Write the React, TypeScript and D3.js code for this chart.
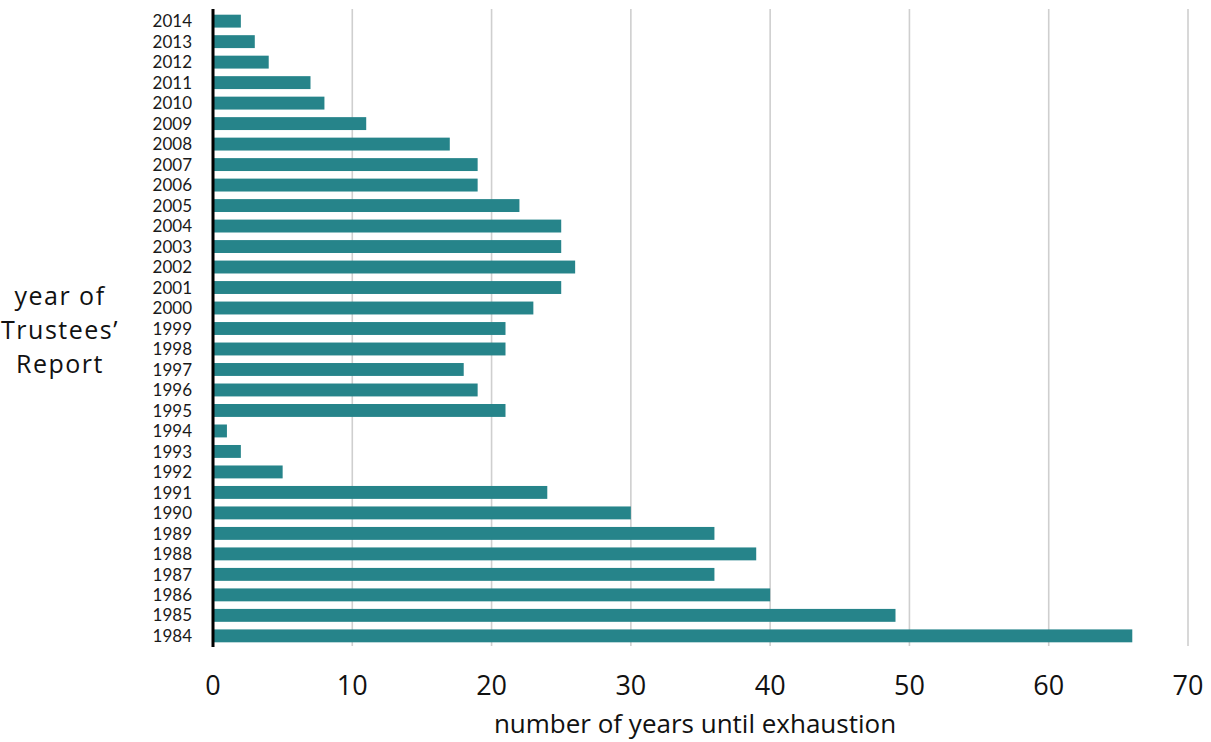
import React from "react";
import * as d3 from "d3";

const years = [
  "2014","2013","2012","2011","2010","2009","2008","2007","2006","2005","2004","2003","2002","2001","2000",
  "1999","1998","1997","1996","1995","1994","1993","1992","1991","1990","1989","1988","1987","1986","1985","1984",
];
const yearsUntilExhaustion = [
  2, 3, 4, 7, 8, 11, 17, 19, 19, 22, 25, 25, 26, 25, 23,
  21, 21, 18, 19, 21, 1, 2, 5, 24, 30, 36, 39, 36, 40, 49, 66,
];
const xTicks = [0, 10, 20, 30, 40, 50, 60, 70];
const xTitle = "number of years until exhaustion";
const yTitleLines = ["year of", "Trustees\u2019", "Report"];

const W = 1211;
const H = 742;
const FONT = "'Open Sans', 'Noto Sans', sans-serif";
const LABEL_FONT = "Lato, 'Open Sans', sans-serif";

export default function App() {
  const x = d3.scaleLinear().domain([0, 70]).range([213, 1188]);
  const y = d3
    .scaleBand<string>()
    .domain(years)
    .range([11, 646])
    .paddingInner(0.37)
    .paddingOuter(0.18);
  const bw = y.bandwidth();
  return (
    <svg width={W} height={H} style={{ position: "absolute", left: 0, top: 0, background: "#fff" }}>
      {xTicks.slice(1).map((t) => (
        <line key={"g" + t} x1={x(t)} x2={x(t)} y1={9} y2={646} stroke="#cfcfcf" strokeWidth={1.6} />
      ))}
      {years.map((yr, i) => (
        <rect
          key={yr}
          x={x(0)}
          y={y(yr)!}
          width={x(yearsUntilExhaustion[i]) - x(0)}
          height={bw}
          fill="#26848a"
        />
      ))}
      <line x1={x(0)} x2={x(0)} y1={9} y2={647} stroke="#000" strokeWidth={3} />
      {years.map((yr) => (
        <text
          key={"l" + yr}
          x={192}
          y={y(yr)! + bw / 2}
          dy="0.36em"
          textAnchor="end"
          fontFamily={LABEL_FONT}
          fontSize={17}
          fill="#1a1a1a"
        >
          {yr}
        </text>
      ))}
      {xTicks.map((t) => (
        <text
          key={"t" + t}
          x={x(t)}
          y={695}
          textAnchor="middle"
          fontFamily={FONT}
          fontSize={27}
          fill="#111"
        >
          {t}
        </text>
      ))}
      <text x={695} y={733} textAnchor="middle" fontFamily={FONT} fontSize={26} fill="#111">
        {xTitle}
      </text>
      {yTitleLines.map((s, i) => (
        <text
          key={s}
          x={60}
          y={305 + i * 34}
          textAnchor="middle"
          fontFamily={FONT}
          fontSize={25}
          letterSpacing={1.5}
          fill="#111"
        >
          {s}
        </text>
      ))}
    </svg>
  );
}
